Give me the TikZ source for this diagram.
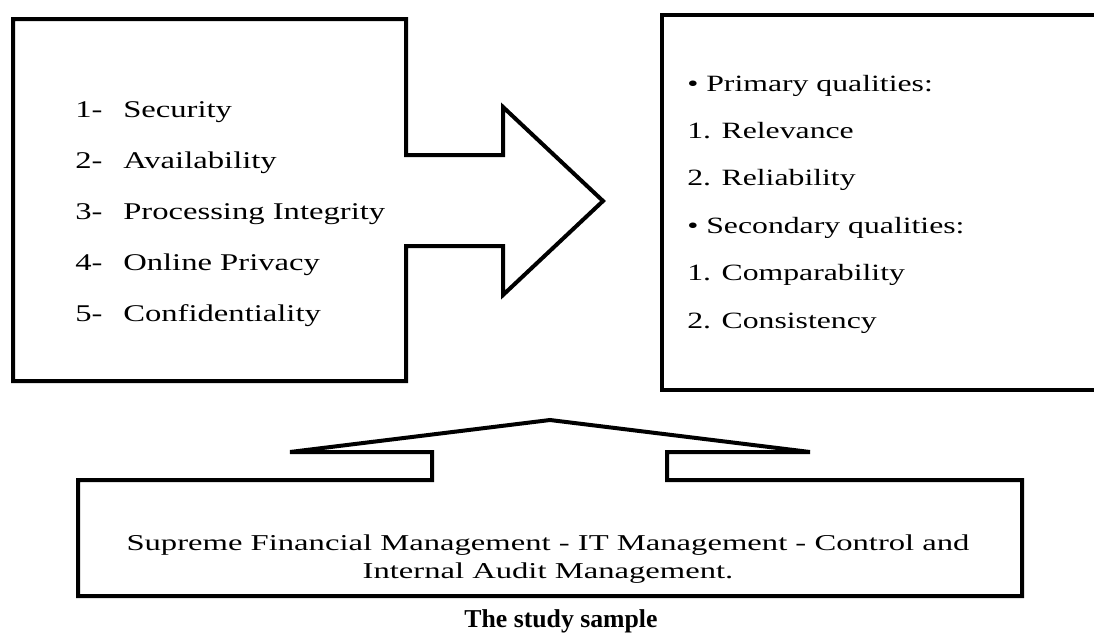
\documentclass[tikz,border=0pt]{standalone}
\usepackage{fontspec}
\setmainfont{Liberation Serif}
\newfontfamily\widefont{Liberation Serif}[FakeStretch=1.36]
\newfontfamily\widerfont{Liberation Serif}[FakeStretch=1.44]
\begin{document}
\begin{tikzpicture}[x=0.75pt,y=-0.75pt,
  outline/.style={draw=black,line width=3pt,line join=miter,fill=white},
  leftitem/.style={anchor=base west,inner sep=0pt,font=\widefont\fontsize{18}{20}\selectfont},
  rightitem/.style={anchor=base west,inner sep=0pt,font=\widefont\fontsize{17.5}{20}\selectfont},
  basetext/.style={anchor=base,inner sep=0pt,font=\widerfont\fontsize{17}{20}\selectfont},
  caption/.style={anchor=base,inner sep=0pt,font=\bfseries\fontsize{19.3}{22}\selectfont}]
\clip (0,0) rectangle (1094,632);
\fill[white] (0,0) rectangle (1094,632);

% left block with arrow pointing right
\draw[outline] (13,19) -- (406,19) -- (406,155) -- (503,155) -- (503,107)
  -- (603,201) -- (503,295) -- (503,246) -- (406,246) -- (406,381)
  -- (13,381) -- cycle;

% right block (runs off the right margin)
\draw[outline,line width=3.5pt] (662,15) rectangle (1115,390);

% bottom block with arrow pointing up
\draw[outline] (78,480) -- (432,480) -- (432,452) -- (290,452) -- (550,420)
  -- (810,452) -- (667,452) -- (667,480) -- (1022,480) -- (1022,596)
  -- (78,596) -- cycle;

% criteria list
\node[leftitem] (n1) at (75,117) {1-};
\node[leftitem] (t1) at (123,117) {Security};
\node[leftitem] (n2) at (75,168) {2-};
\node[leftitem] (t2) at (123,168) {Availability};
\node[leftitem] (n3) at (75,219) {3-};
\node[leftitem] (t3) at (123,219) {Processing Integrity};
\node[leftitem] (n4) at (75,270) {4-};
\node[leftitem] (t4) at (123,270) {Online Privacy};
\node[leftitem] (n5) at (75,321) {5-};
\node[leftitem] (t5) at (123,321) {Confidentiality};

% qualities list
\node[rightitem] (q1) at (687,91) {• Primary qualities:};
\node[rightitem] (q2) at (687,138) {1. Relevance};
\node[rightitem] (q3) at (687,185) {2. Reliability};
\node[rightitem] (q4) at (687,233) {• Secondary qualities:};
\node[rightitem] (q5) at (687,280) {1. Comparability};
\node[rightitem] (q6) at (687,328) {2. Consistency};

% sample description
\node[basetext] (s1) at (548,550) {Supreme Financial Management - IT Management - Control and};
\node[basetext] (s2) at (548,578) {Internal Audit Management.};

\node[caption] (cap) at (561,627) {The study sample};
\end{tikzpicture}
\end{document}
